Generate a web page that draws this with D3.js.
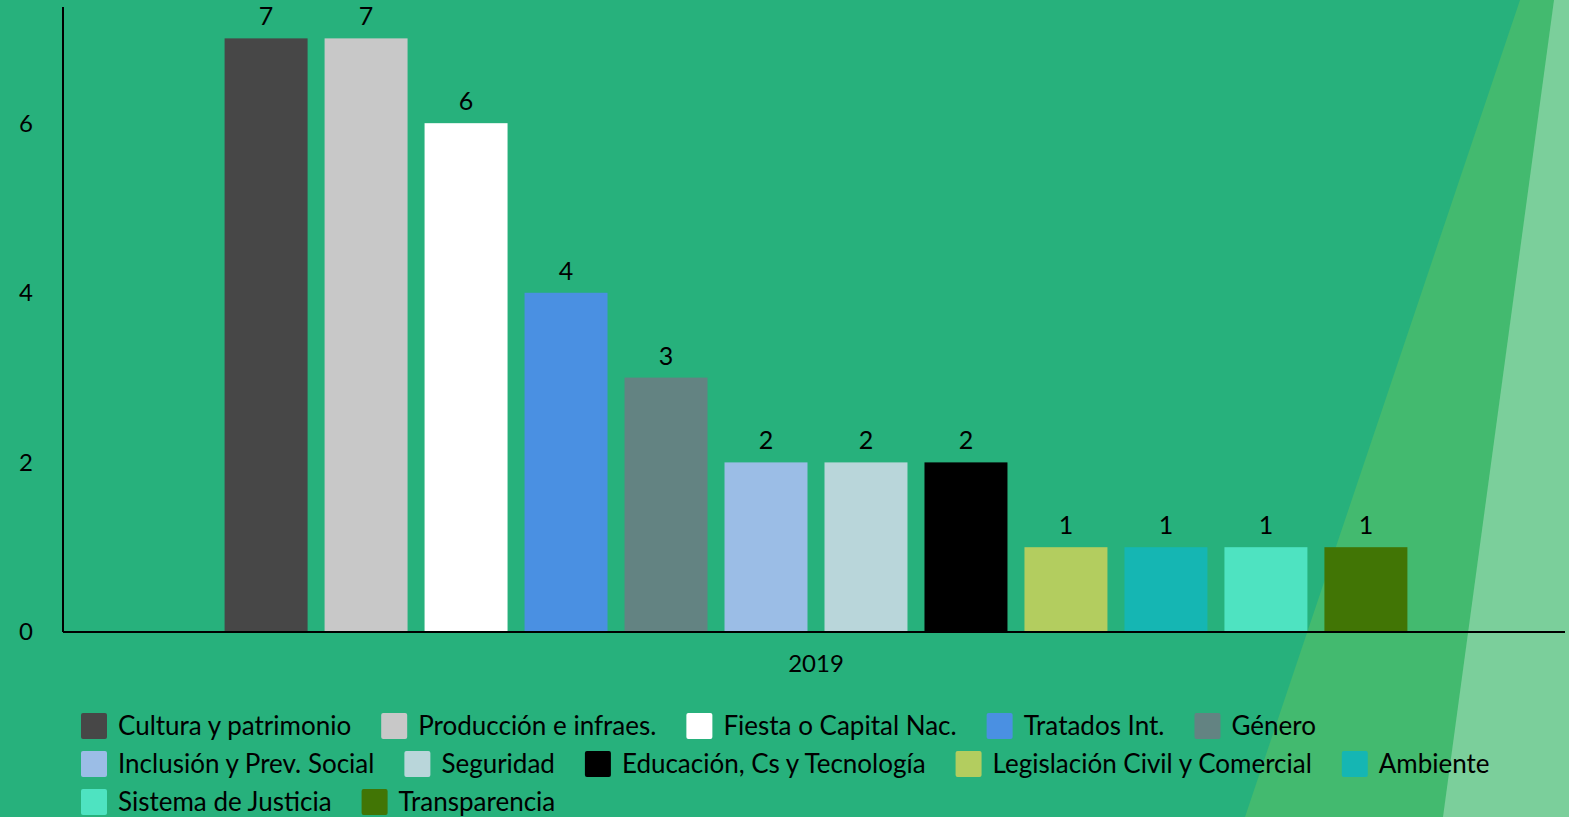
<!DOCTYPE html>
<html>
<head>
<meta charset="utf-8">
<script src="https://cdn.jsdelivr.net/npm/d3@7"></script>
<style>
  html, body { margin: 0; padding: 0; background: #27b17c; overflow: hidden; }
  svg { display: block; font-family: Lato, "Open Sans", sans-serif; }
</style>
</head>
<body>
<div id="container"></div>
<script>
// chart data
const years = ['2019'];
const categories = [
  'Cultura y patrimonio', 'Producción e infraes.', 'Fiesta o Capital Nac.', 'Tratados Int.',
  'Género', 'Inclusión y Prev. Social', 'Seguridad', 'Educación, Cs y Tecnología',
  'Legislación Civil y Comercial', 'Ambiente', 'Sistema de Justicia', 'Transparencia'
];
const values = [7, 7, 6, 4, 3, 2, 2, 2, 1, 1, 1, 1];
const colors = [
  '#474747', '#c8c8c8', '#ffffff', '#4a90e2', '#638382', '#9bbde6',
  '#b9d6da', '#000000', '#b3cd5f', '#15b6b3', '#4ee3c1', '#417505'
];
const yTicks = [0, 2, 4, 6];
const yMax = 7.37;

const width = 1569;
const height = 817;
const margin = { top: 7, right: 0, bottom: 185, left: 63 };

const svg = d3.select('#container')
    .append('svg')
    .attr('width', width)
    .attr('height', height);

// background decoration on the right
svg.append('rect')
    .attr('width', width).attr('height', height)
    .attr('fill', '#27b17c');
svg.append('path')
    .attr('d', `M1520,0 L${width},0 L${width},${height} L1245,${height} Z`)
    .attr('fill', '#43ba6f');
svg.append('path')
    .attr('d', `M1554,0 L${width},0 L${width},${height} L1443,${height} Z`)
    .attr('fill', '#7bcf9b');

const plotW = width - margin.left - margin.right;
const plotH = height - margin.top - margin.bottom;

const g = svg.append('g')
    .attr('transform', `translate(${margin.left},${margin.top})`);

const x0 = d3.scaleBand()
    .domain(years)
    .range([0, plotW])
    .paddingInner(0.2)
    .paddingOuter(0.1);

const x1 = d3.scaleBand()
    .domain(categories)
    .range([0, x0.bandwidth()])
    .paddingInner(0.17)
    .paddingOuter(0.11);

const y = d3.scaleLinear()
    .domain([0, yMax])
    .range([plotH, 0]);

const color = d3.scaleOrdinal().domain(categories).range(colors);

// y tick labels (no tick marks)
g.selectAll('.ytick')
    .data(yTicks)
    .enter().append('text')
    .attr('class', 'ytick')
    .attr('x', -37)
    .attr('y', d => y(d))
    .attr('dy', '0.35em')
    .attr('text-anchor', 'middle')
    .attr('font-size', 24)
    .attr('fill', '#000')
    .text(d => d);

// bars
const group = g.selectAll('.year')
    .data(years)
    .enter().append('g')
    .attr('class', 'year')
    .attr('transform', d => `translate(${x0(d)},0)`);

const rows = categories.map((c, i) => ({ cat: c, value: values[i] }));

group.selectAll('rect')
    .data(rows)
    .enter().append('rect')
    .attr('x', d => x1(d.cat))
    .attr('y', d => y(d.value))
    .attr('width', x1.bandwidth())
    .attr('height', d => plotH - y(d.value))
    .attr('fill', d => color(d.cat));

group.selectAll('.val')
    .data(rows)
    .enter().append('text')
    .attr('class', 'val')
    .attr('x', d => x1(d.cat) + x1.bandwidth() / 2)
    .attr('y', d => y(d.value) - 13)
    .attr('text-anchor', 'middle')
    .attr('font-size', 25)
    .attr('fill', '#000')
    .text(d => d.value);

// axes lines
g.append('line')
    .attr('x1', 0).attr('x2', 0)
    .attr('y1', 0).attr('y2', plotH)
    .attr('stroke', '#000').attr('stroke-width', 2);
g.append('line')
    .attr('x1', 0).attr('x2', plotW - 4)
    .attr('y1', plotH).attr('y2', plotH)
    .attr('stroke', '#000').attr('stroke-width', 2);

// category label
g.selectAll('.xlab')
    .data(years)
    .enter().append('text')
    .attr('class', 'xlab')
    .attr('x', d => x0(d) + x0.bandwidth() / 2)
    .attr('y', plotH + 32)
    .attr('dy', '0.35em')
    .attr('text-anchor', 'middle')
    .attr('font-size', 24)
    .attr('fill', '#000')
    .text(d => d);

// legend, flowing layout
const legend = svg.append('g');
const legendLeft = 81, legendRight = 1530, rowH = 38, firstRowY = 726;
const sw = 26, textGap = 11, itemGap = 30;
let cx = legendLeft, row = 0;
categories.forEach((c, i) => {
  const item = legend.append('g');
  const label = item.append('text')
      .attr('x', sw + textGap)
      .attr('dy', '0.35em')
      .attr('font-size', 26)
      .attr('fill', '#000')
      .text(c);
  const w = sw + textGap + label.node().getComputedTextLength();
  if (cx + w > legendRight && cx > legendLeft) {
    row += 1;
    cx = legendLeft;
  }
  item.insert('rect', 'text')
      .attr('x', 0).attr('y', -sw / 2)
      .attr('width', sw).attr('height', sw)
      .attr('rx', 2)
      .attr('fill', colors[i]);
  item.attr('transform', `translate(${cx},${firstRowY + row * rowH})`);
  cx += w + itemGap;
});
</script>
</body>
</html>
